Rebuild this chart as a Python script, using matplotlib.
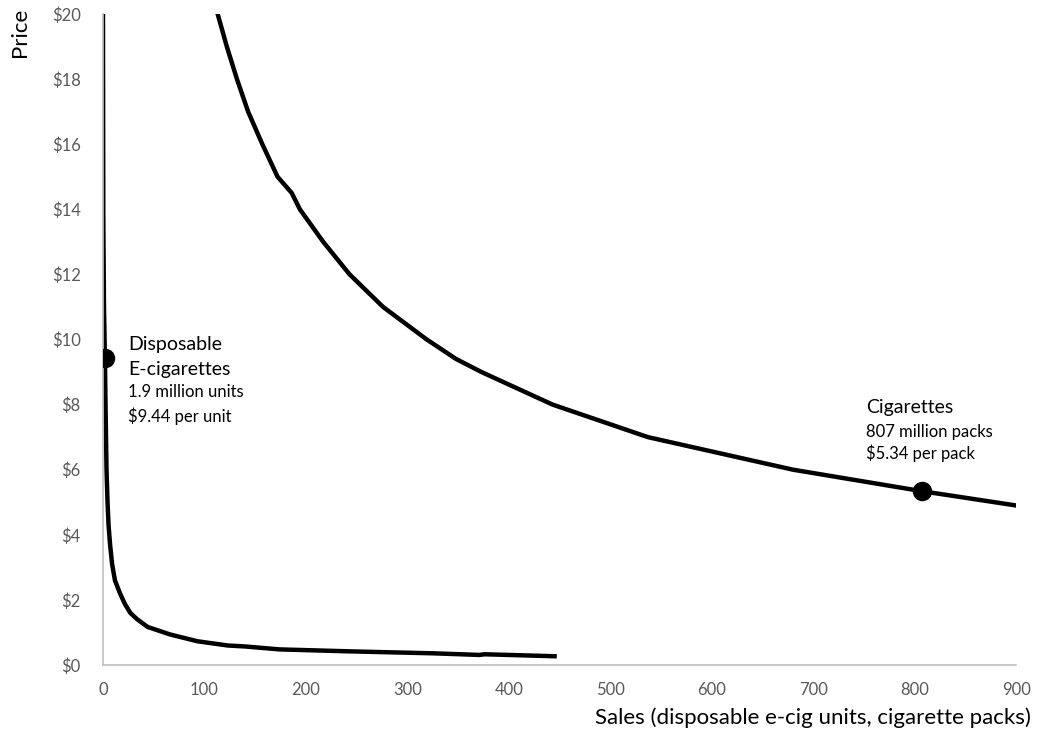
import matplotlib
matplotlib.use("Agg")
import matplotlib.pyplot as plt

plt.rcParams['font.family'] = ['Lato', 'DejaVu Sans']

# Disposable e-cigarette demand curve (sales, price)
ecig_sales = [0, 0.3, 0.5, 1.0, 1.9, 2.5, 3.5, 4.5, 5.5, 7, 9, 11.8, 16.8, 21.7, 27, 33.5, 44, 66, 93, 123, 140, 174, 243, 325, 371, 376, 445]
ecig_price = [20, 14, 13, 11, 9.44, 8, 6, 5, 4.3, 3.7, 3.1, 2.6, 2.2, 1.87, 1.6, 1.41, 1.17, 0.94, 0.73, 0.6, 0.57, 0.48, 0.42, 0.36, 0.31, 0.33, 0.27]

# Cigarette demand curve (sales, price)
cig_sales = [113, 122, 132, 143, 157, 172, 186, 194, 217, 243, 276, 319, 348, 373, 443, 537, 680, 807, 900]
cig_price = [20, 19, 18, 17, 16, 15, 14.5, 14, 13, 12, 11, 10, 9.4, 9, 8, 7, 6, 5.34, 4.9]

# Highlighted points
ecig_point = (1.9, 9.44)
cig_point = (807, 5.34)

x_ticks = [0, 100, 200, 300, 400, 500, 600, 700, 800, 900]
y_ticks = [0, 2, 4, 6, 8, 10, 12, 14, 16, 18, 20]
y_tick_labels = ['$' + str(v) for v in y_ticks]

fig = plt.figure(figsize=(10.37, 7.32), dpi=100)
ax = fig.add_axes([0.0993, 0.0915, 0.8807, 0.8895])

ax.plot(ecig_sales, ecig_price, color='black', lw=3.2, solid_joinstyle='round')
ax.plot(cig_sales, cig_price, color='black', lw=3.2, solid_joinstyle='round')
ax.plot(*ecig_point, 'o', color='black', ms=13, zorder=5)
ax.plot(*cig_point, 'o', color='black', ms=13, zorder=5)

ax.set_xlim(0, 900)
ax.set_ylim(0, 20)
ax.set_xticks(x_ticks)
ax.set_yticks(y_ticks)
ax.set_yticklabels(y_tick_labels)
ax.tick_params(axis='both', length=0, labelsize=12, labelcolor='#595959')
ax.tick_params(axis='y', pad=16)
ax.tick_params(axis='x', pad=12)

for s in ['top', 'right']:
    ax.spines[s].set_visible(False)
for s in ['left', 'bottom']:
    ax.spines[s].set_color('#bfbfbf')
    ax.spines[s].set_linewidth(1.2)

fig.text(20 / 1037, 1 - 32 / 732, 'Price', rotation=90, ha='center', va='center', fontsize=16)
fig.text(1031 / 1037, 1 - 718 / 732, 'Sales (disposable e-cig units, cigarette packs)',
         ha='right', va='center', fontsize=16)

ax.text(24.7, 9.86, 'Disposable', fontsize=14, va='center')
ax.text(24.7, 9.09, 'E-cigarettes', fontsize=14, va='center')
ax.text(24.7, 8.39, '1.9 million units', fontsize=12, va='center')
ax.text(24.7, 7.65, '$9.44 per unit', fontsize=12, va='center')

ax.text(752, 7.90, 'Cigarettes', fontsize=14, va='center')
ax.text(752, 7.16, '807 million packs', fontsize=12, va='center')
ax.text(752, 6.51, '$5.34 per pack', fontsize=12, va='center')

fig.savefig('out.png', dpi=100)
